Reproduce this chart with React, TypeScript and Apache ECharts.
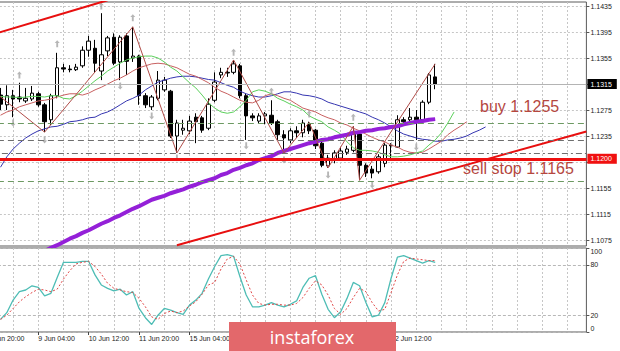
import React, { useEffect, useRef } from 'react';
import * as echarts from 'echarts';

// ---------- categories (H4 bars) ----------
const firstBar = '5 Jun 20:00';
const tradingDays = ['8 Jun', '9 Jun', '10 Jun', '11 Jun', '12 Jun', '15 Jun', '16 Jun', '17 Jun', '18 Jun', '19 Jun', '22 Jun', '23 Jun', '24 Jun', '25 Jun', '26 Jun', '29 Jun'];
const barHours = ['00:00', '04:00', '08:00', '12:00', '16:00', '20:00'];
const categories: string[] = [firstBar, ...tradingDays.flatMap((d) => barHours.map((h) => `${d} ${h}`))].slice(0, 96);

// ---------- price candles: [open, close, low, high] ----------
const E = ['-', '-', '-', '-'];
const candles: any[] = [
  E, E,
  [1.1298, 1.1284, 1.1275, 1.1309], [1.1283, 1.1297, 1.1275, 1.1313], [1.1297, 1.1292, 1.1264, 1.1306],
  [1.1295, 1.1292, 1.1287, 1.1317], [1.1289, 1.1293, 1.1286, 1.1309], [1.1292, 1.1301, 1.1289, 1.1312],
  [1.1300, 1.1283, 1.1280, 1.1303], [1.1283, 1.1257, 1.1241, 1.1286], [1.1260, 1.1297, 1.1252, 1.1300],
  [1.1297, 1.1340, 1.1293, 1.1363], [1.1340, 1.1338, 1.1333, 1.1346], [1.1338, 1.1337, 1.1333, 1.1344],
  [1.1337, 1.1341, 1.1335, 1.1346], [1.1343, 1.1367, 1.1340, 1.1373], [1.1367, 1.1381, 1.1357, 1.1389],
  [1.1370, 1.1347, 1.1332, 1.1383], [1.1335, 1.1360, 1.1321, 1.1424], [1.1366, 1.1386, 1.1358, 1.1389],
  [1.1387, 1.1347, 1.1344, 1.1393], [1.1349, 1.1387, 1.1321, 1.1390], [1.1389, 1.1350, 1.1329, 1.1393],
  [1.1355, 1.1358, 1.1349, 1.1403], [1.1358, 1.1297, 1.1283, 1.1360], [1.1297, 1.1283, 1.1278, 1.1301],
  [1.1280, 1.1295, 1.1275, 1.1298], [1.1293, 1.1321, 1.1290, 1.1335], [1.1306, 1.1321, 1.1303, 1.1326],
  [1.1304, 1.1235, 1.1232, 1.1306], [1.1235, 1.1255, 1.1209, 1.1260], [1.1244, 1.1247, 1.1237, 1.1260],
  [1.1243, 1.1258, 1.1238, 1.1266], [1.1264, 1.1257, 1.1224, 1.1270], [1.1263, 1.1244, 1.1240, 1.1266],
  [1.1247, 1.1284, 1.1244, 1.1293], [1.1290, 1.1318, 1.1287, 1.1333], [1.1329, 1.1333, 1.1324, 1.1340],
  [1.1333, 1.1332, 1.1326, 1.1340], [1.1333, 1.1346, 1.1330, 1.1352], [1.1343, 1.1297, 1.1293, 1.1346],
  [1.1297, 1.1266, 1.1229, 1.1301], [1.1266, 1.1263, 1.1258, 1.1270], [1.1258, 1.1266, 1.1255, 1.1270],
  [1.1266, 1.1269, 1.1253, 1.1272], [1.1267, 1.1255, 1.1252, 1.1290], [1.1257, 1.1237, 1.1229, 1.1260],
  [1.1237, 1.1232, 1.1209, 1.1244], [1.1229, 1.1243, 1.1224, 1.1247], [1.1243, 1.1240, 1.1232, 1.1250],
  [1.1240, 1.1255, 1.1233, 1.1260], [1.1253, 1.1243, 1.1238, 1.1257], [1.1244, 1.1220, 1.1215, 1.1246],
  [1.1224, 1.1190, 1.1187, 1.1227], [1.1189, 1.1201, 1.1186, 1.1206], [1.1198, 1.1209, 1.1193, 1.1213],
  [1.1201, 1.1212, 1.1198, 1.1218], [1.1210, 1.1215, 1.1206, 1.1220], [1.1213, 1.1238, 1.1210, 1.1250],
  [1.1238, 1.1190, 1.1167, 1.1241], [1.1190, 1.1178, 1.1172, 1.1193], [1.1184, 1.1178, 1.1170, 1.1189],
  [1.1180, 1.1203, 1.1177, 1.1207], [1.1193, 1.1221, 1.1187, 1.1224], [1.1221, 1.1220, 1.1198, 1.1224],
  [1.1218, 1.1260, 1.1217, 1.1267], [1.1260, 1.1257, 1.1252, 1.1264], [1.1260, 1.1264, 1.1257, 1.1278],
  [1.1264, 1.1260, 1.1229, 1.1275], [1.1260, 1.1287, 1.1257, 1.1290], [1.1287, 1.1329, 1.1284, 1.1332],
  [1.1326, 1.1315, 1.1307, 1.1346],
];

// ---------- Alligator (jaw / teeth / lips), shifted forward ----------
const lips = ['-', '-',
  1.1296, 1.1295, 1.1295, 1.1294, 1.1295, 1.1296, 1.1296, 1.1295,
  1.1297, 1.1297, 1.1293, 1.1292, 1.1297, 1.1304, 1.1312, 1.1320, 1.1327, 1.1335,
  1.1341, 1.1347, 1.1352, 1.1355, 1.1357, 1.1358, 1.1358, 1.1355, 1.1349, 1.1341,
  1.1335, 1.1326, 1.1317, 1.1309, 1.1298, 1.1286, 1.1278, 1.1272, 1.1270, 1.1272,
  1.1280, 1.1290, 1.1303, 1.1306, 1.1304, 1.1300, 1.1293, 1.1289, 1.1284, 1.1280,
  1.1275, 1.1266, 1.1261, 1.1257, 1.1249, 1.1244, 1.1238, 1.1226, 1.1217, 1.1213,
  1.1213, 1.1212, 1.1210, 1.1206, 1.1203, 1.1203, 1.1204, 1.1206, 1.1209, 1.1212,
  1.1221, 1.1229, 1.1240, 1.1255, 1.1272];
const teeth = ['-', '-',
  1.1267, 1.1272, 1.1275, 1.1280, 1.1283, 1.1286, 1.1289, 1.1290, 1.1292, 1.1295,
  1.1298, 1.1300, 1.1300, 1.1298, 1.1301, 1.1306, 1.1310, 1.1315, 1.1320, 1.1324,
  1.1329, 1.1335, 1.1340, 1.1343, 1.1346, 1.1347, 1.1346, 1.1343, 1.1340, 1.1335,
  1.1330, 1.1327, 1.1322, 1.1317, 1.1310, 1.1304, 1.1300, 1.1295, 1.1290, 1.1287,
  1.1286, 1.1290, 1.1297, 1.1300, 1.1297, 1.1293, 1.1290, 1.1284, 1.1278, 1.1275,
  1.1272, 1.1267, 1.1263, 1.1260, 1.1255, 1.1252, 1.1247, 1.1243, 1.1238, 1.1233,
  1.1229, 1.1226, 1.1221, 1.1218, 1.1213, 1.1210, 1.1209, 1.1210, 1.1215, 1.1221,
  1.1227, 1.1237, 1.1244, 1.1250, 1.1257];
const jaw = ['-', '-',
  1.1187, 1.1203, 1.1215, 1.1224, 1.1232, 1.1238, 1.1243, 1.1246, 1.1249, 1.1250,
  1.1253, 1.1257, 1.1258, 1.1260, 1.1263, 1.1264, 1.1269, 1.1272, 1.1277, 1.1283,
  1.1289, 1.1293, 1.1298, 1.1306, 1.1312, 1.1318, 1.1321, 1.1324, 1.1326, 1.1327,
  1.1327, 1.1326, 1.1324, 1.1322, 1.1321, 1.1317, 1.1313, 1.1310, 1.1304, 1.1300,
  1.1297, 1.1295, 1.1295, 1.1297, 1.1300, 1.1303, 1.1303, 1.1301, 1.1298, 1.1297,
  1.1295, 1.1292, 1.1287, 1.1284, 1.1281, 1.1278, 1.1275, 1.1272, 1.1269, 1.1264,
  1.1260, 1.1255, 1.1249, 1.1243, 1.1238, 1.1235, 1.1232, 1.1230, 1.1229, 1.1227,
  1.1227, 1.1229, 1.1230, 1.1232, 1.1235, 1.1240, 1.1244, 1.1249];

// ---------- long moving average (purple) ----------
const longMA = ['-', '-', '-', '-', '-', '-', '-', '-', '-',
  1.1058, 1.1063, 1.1067, 1.1072, 1.1077, 1.1081, 1.1086, 1.1090, 1.1095, 1.1100,
  1.1104, 1.1109, 1.1113, 1.1118, 1.1123, 1.1127, 1.1132, 1.1137, 1.1140, 1.1143,
  1.1147, 1.1150, 1.1153, 1.1157, 1.1160, 1.1164, 1.1167, 1.1170, 1.1175, 1.1178,
  1.1183, 1.1186, 1.1190, 1.1193, 1.1198, 1.1201, 1.1204, 1.1209, 1.1212, 1.1215,
  1.1218, 1.1221, 1.1224, 1.1226, 1.1229, 1.1230, 1.1233, 1.1235, 1.1237, 1.1240,
  1.1241, 1.1243, 1.1244, 1.1246, 1.1247, 1.1249, 1.1250, 1.1253, 1.1255, 1.1257,
  1.1258, 1.1260, 1.1261];

// ---------- ZigZag pivots [bar index, price] ----------
const zigzag = [[1, 1.1303], [9, 1.1241], [23, 1.1403], [30, 1.1209], [39, 1.1352], [47, 1.1209],
  [51, 1.1256], [54, 1.1186], [58, 1.1250], [59, 1.1167], [71, 1.1346]];

// ---------- fractals [bar index, price] ----------
const fractalsUp = [[5, 1.1329], [11, 1.1377], [18, 1.1435], [23, 1.1417], [39, 1.1364], [45, 1.1304], [51, 1.1269], [58, 1.1264]];
const fractalsDown = [[4, 1.1255], [9, 1.1229], [21, 1.1312], [26, 1.1266], [30, 1.1201], [41, 1.1220], [47, 1.1198], [54, 1.1175], [61, 1.1160], [68, 1.1218]];

// ---------- channel trend lines [bar index, price] ----------
const upperTrend = [[0, 1.1389], [19, 1.1444]];
const lowerTrend = [[30, 1.1067], [95, 1.1242]];

// ---------- horizontal levels ----------
const keyLevel = 1.12;
const buyLevel = 1.1255;
const sellStopLevel = 1.1165;
const grayDashLevel = 1.1229;
const grayDashDotLevel = 1.1208;

// ---------- stochastic ----------
const stochMain = ['-', '-',
  15, 23, 38, 48, 50, 55, 53, 43, 46, 65,
  83, 83, 83, 84, 84, 68, 56, 52, 49, 51,
  44, 48, 28, 17, 9, 20, 28, 26, 23, 21,
  32, 38, 46, 63, 78, 91, 92, 90, 66, 44,
  30, 30, 32, 35, 32, 30, 33, 37, 53, 64,
  67, 45, 27, 17, 24, 40, 59, 55, 35, 18,
  20, 35, 64, 89, 91, 88, 85, 82, 85, 83];
const stochSignal = ['-', '-',
  15, 20, 28, 36, 42, 47, 51, 50, 48, 51,
  63, 73, 81, 83, 84, 78, 69, 58, 52, 50,
  48, 47, 40, 30, 18, 15, 22, 25, 23, 25,
  31, 36, 45, 56, 59, 75, 87, 90, 81, 62,
  44, 34, 32, 33, 33, 32, 32, 34, 41, 52,
  61, 56, 44, 28, 21, 28, 41, 52, 48, 35,
  25, 27, 47, 68, 84, 88, 87, 86, 85, 85];

// ---------- axis ticks ----------
const priceTicks = [1.1075, 1.1115, 1.1155, 1.1195, 1.1235, 1.1275, 1.1315, 1.1355, 1.1395, 1.1435];
const priceLabels = [1.1075, 1.1115, 1.1155, 1.1235, 1.1275, 1.1355, 1.1395, 1.1435];
const stochTicks = [0, 20, 80, 100];
// time labels every 8 bars; those hidden under the watermark in the reference are skipped
const hiddenTimeLabels = ['16 Jun 12:00', '17 Jun 20:00', '19 Jun 04:00'];

const FONT = '"Liberation Sans", Arial, sans-serif';
const lastClose = candles[candles.length - 1][1];

const gridLine = { show: true, lineStyle: { color: '#c6c6c6', type: [2, 2] as any, width: 1 } };
const vInterval = (i: number) => i % 4 === 0;
const tickInterval = (i: number) => i % 8 === 0 && i < candles.length;
const labelInterval = (i: number, v: string) => tickInterval(i) && hiddenTimeLabels.indexOf(v) < 0;

const option: any = {
  animation: false,
  backgroundColor: '#ffffff',
  grid: [
    { left: -12.1, top: 2, right: 33.6, height: 244, show: true, borderColor: '#5a5a5a', borderWidth: 1, outerBoundsMode: 'none', containLabel: false },
    { left: -12.1, top: 248, right: 33.6, height: 84, show: true, borderColor: '#5a5a5a', borderWidth: 1, outerBoundsMode: 'none', containLabel: false },
  ],
  xAxis: [
    {
      type: 'category', gridIndex: 0, data: categories, boundaryGap: false,
      axisLine: { show: false }, axisTick: { show: false }, axisLabel: { show: false },
      splitLine: { ...gridLine, interval: vInterval },
    },
    {
      type: 'category', gridIndex: 1, data: categories, boundaryGap: false,
      axisLine: { show: false },
      axisTick: { show: true, interval: tickInterval, length: 3, lineStyle: { color: '#444' } },
      axisLabel: { show: true, interval: labelInterval, align: 'left', fontSize: 7, color: '#222', fontFamily: FONT, margin: 3 },
      splitLine: { ...gridLine, interval: vInterval },
    },
  ],
  yAxis: [
    {
      type: 'value', gridIndex: 0, position: 'right', min: 1.10658, max: 1.14412, scale: true,
      axisLine: { show: false },
      axisTick: { show: true, customValues: priceTicks, length: 3, lineStyle: { color: '#555' } },
      axisLabel: { customValues: priceLabels, formatter: (v: number) => v.toFixed(4), fontSize: 7, color: '#222', fontFamily: FONT, margin: 4 },
      splitLine: gridLine,
    },
    {
      type: 'value', gridIndex: 1, position: 'right', min: 0, max: 100,
      axisLine: { show: false },
      axisTick: { show: true, customValues: stochTicks, length: 3, lineStyle: { color: '#555' } },
      axisLabel: { customValues: stochTicks, fontSize: 7, color: '#222', fontFamily: FONT, margin: 4, verticalAlignMaxLabel: 'top', verticalAlignMinLabel: 'bottom' },
      splitLine: { show: true, lineStyle: { color: '#b8b8b8', type: [3, 2] as any, width: 1 } },
    },
  ],
  series: [
    {
      type: 'candlestick', xAxisIndex: 0, yAxisIndex: 0, data: candles, barWidth: 4, z: 2,
      itemStyle: { color: '#ffffff', color0: '#000000', borderColor: '#000000', borderColor0: '#000000', borderWidth: 1 },
      markLine: {
        silent: true, symbol: ['none', 'none'], animation: false, precision: 4,
        data: [
          { yAxis: grayDashLevel, lineStyle: { color: '#6e6e6e', type: [6, 4], width: 1 }, label: { show: false } },
          { yAxis: grayDashDotLevel, lineStyle: { color: '#6e6e6e', type: [6, 3, 2, 3], width: 1 }, label: { show: false } },
          { yAxis: buyLevel, lineStyle: { color: '#6d9a63', type: [6, 4], width: 1 }, label: { show: false } },
          { yAxis: sellStopLevel, lineStyle: { color: '#6d9a63', type: [6, 4], width: 1 }, label: { show: false } },
          {
            yAxis: lastClose, lineStyle: { color: '#b4b4b4', type: 'solid', width: 1 },
            label: { show: true, position: 'end', distance: 1, formatter: (p: any) => Number(p.value).toFixed(4), color: '#fff', backgroundColor: '#000', padding: [2, 5, 1, 3], fontSize: 7, fontFamily: FONT },
          },
          {
            yAxis: keyLevel, lineStyle: { color: '#ee1010', type: 'solid', width: 3 },
            label: { show: true, position: 'end', distance: 1, formatter: (p: any) => Number(p.value).toFixed(4), color: '#fff', backgroundColor: '#f01010', padding: [2, 5, 1, 3], fontSize: 7, fontFamily: FONT },
          },
        ],
      },
    },
    { type: 'line', xAxisIndex: 0, yAxisIndex: 0, data: jaw, symbol: 'none', z: 3, lineStyle: { color: '#3535b0', width: 1 } },
    { type: 'line', xAxisIndex: 0, yAxisIndex: 0, data: teeth, symbol: 'none', z: 3, lineStyle: { color: '#c86060', width: 1 } },
    { type: 'line', xAxisIndex: 0, yAxisIndex: 0, data: lips, symbol: 'none', z: 3, lineStyle: { color: '#5cd05c', width: 1 } },
    { type: 'line', xAxisIndex: 0, yAxisIndex: 0, data: longMA, symbol: 'none', z: 3, lineStyle: { color: '#9420d8', width: 4 } },
    { type: 'line', xAxisIndex: 0, yAxisIndex: 0, data: zigzag, symbol: 'none', z: 3, lineStyle: { color: '#b04c48', width: 1 } },
    { type: 'line', xAxisIndex: 0, yAxisIndex: 0, data: upperTrend, symbol: 'none', z: 4, lineStyle: { color: '#e80f0f', width: 2 } },
    { type: 'line', xAxisIndex: 0, yAxisIndex: 0, data: lowerTrend, symbol: 'none', z: 4, lineStyle: { color: '#e80f0f', width: 2 } },
    {
      type: 'scatter', xAxisIndex: 0, yAxisIndex: 0, data: fractalsUp, z: 3, symbolSize: [5, 7],
      symbol: 'path://M4,0 L8,4 L5.5,4 L5.5,10 L2.5,10 L2.5,4 L0,4 Z', itemStyle: { color: '#a4a4a4' },
    },
    {
      type: 'scatter', xAxisIndex: 0, yAxisIndex: 0, data: fractalsDown, z: 3, symbolSize: [5, 7],
      symbol: 'path://M2.5,0 L5.5,0 L5.5,6 L8,6 L4,10 L0,6 L2.5,6 Z', itemStyle: { color: '#a4a4a4' },
    },
    { type: 'line', xAxisIndex: 1, yAxisIndex: 1, data: stochMain, symbol: 'none', z: 3, lineStyle: { color: '#4ebdb5', width: 1.3 } },
    { type: 'line', xAxisIndex: 1, yAxisIndex: 1, data: stochSignal, symbol: 'none', z: 3, lineStyle: { color: '#e04848', width: 1, type: [2, 2] } },
  ],
  graphic: [
    {
      type: 'text', x: 480, y: 106.5, z: 50,
      style: { text: `buy ${buyLevel.toFixed(4)}`, fill: '#b5473f', font: '16px "Liberation Sans", Arial, sans-serif', align: 'left', verticalAlign: 'middle' },
    },
    {
      type: 'text', x: 463, y: 168.5, z: 50,
      style: { text: `sell stop ${sellStopLevel.toFixed(4)}`, fill: '#b5473f', font: '16px "Liberation Sans", Arial, sans-serif', align: 'left', verticalAlign: 'middle' },
    },
    { type: 'rect', z: 100, shape: { x: 229, y: 322, width: 167, height: 29 }, style: { fill: '#e3686b' } },
    {
      type: 'text', x: 312, y: 337, z: 101,
      style: { text: 'instaforex', fill: '#ffffff', font: '18px "Open Sans", sans-serif', align: 'center', verticalAlign: 'middle' },
    },
  ],
};

export default function App() {
  const ref = useRef<HTMLDivElement>(null);
  useEffect(() => {
    const chart = echarts.init(ref.current as HTMLDivElement, null, { renderer: 'svg' });
    chart.setOption(option);
    return () => chart.dispose();
  }, []);
  return (
    <div style={{ position: 'fixed', left: 0, top: 0, width: 620, height: 351, background: '#fff' }}>
      <div ref={ref} style={{ width: 620, height: 351 }} />
    </div>
  );
}
